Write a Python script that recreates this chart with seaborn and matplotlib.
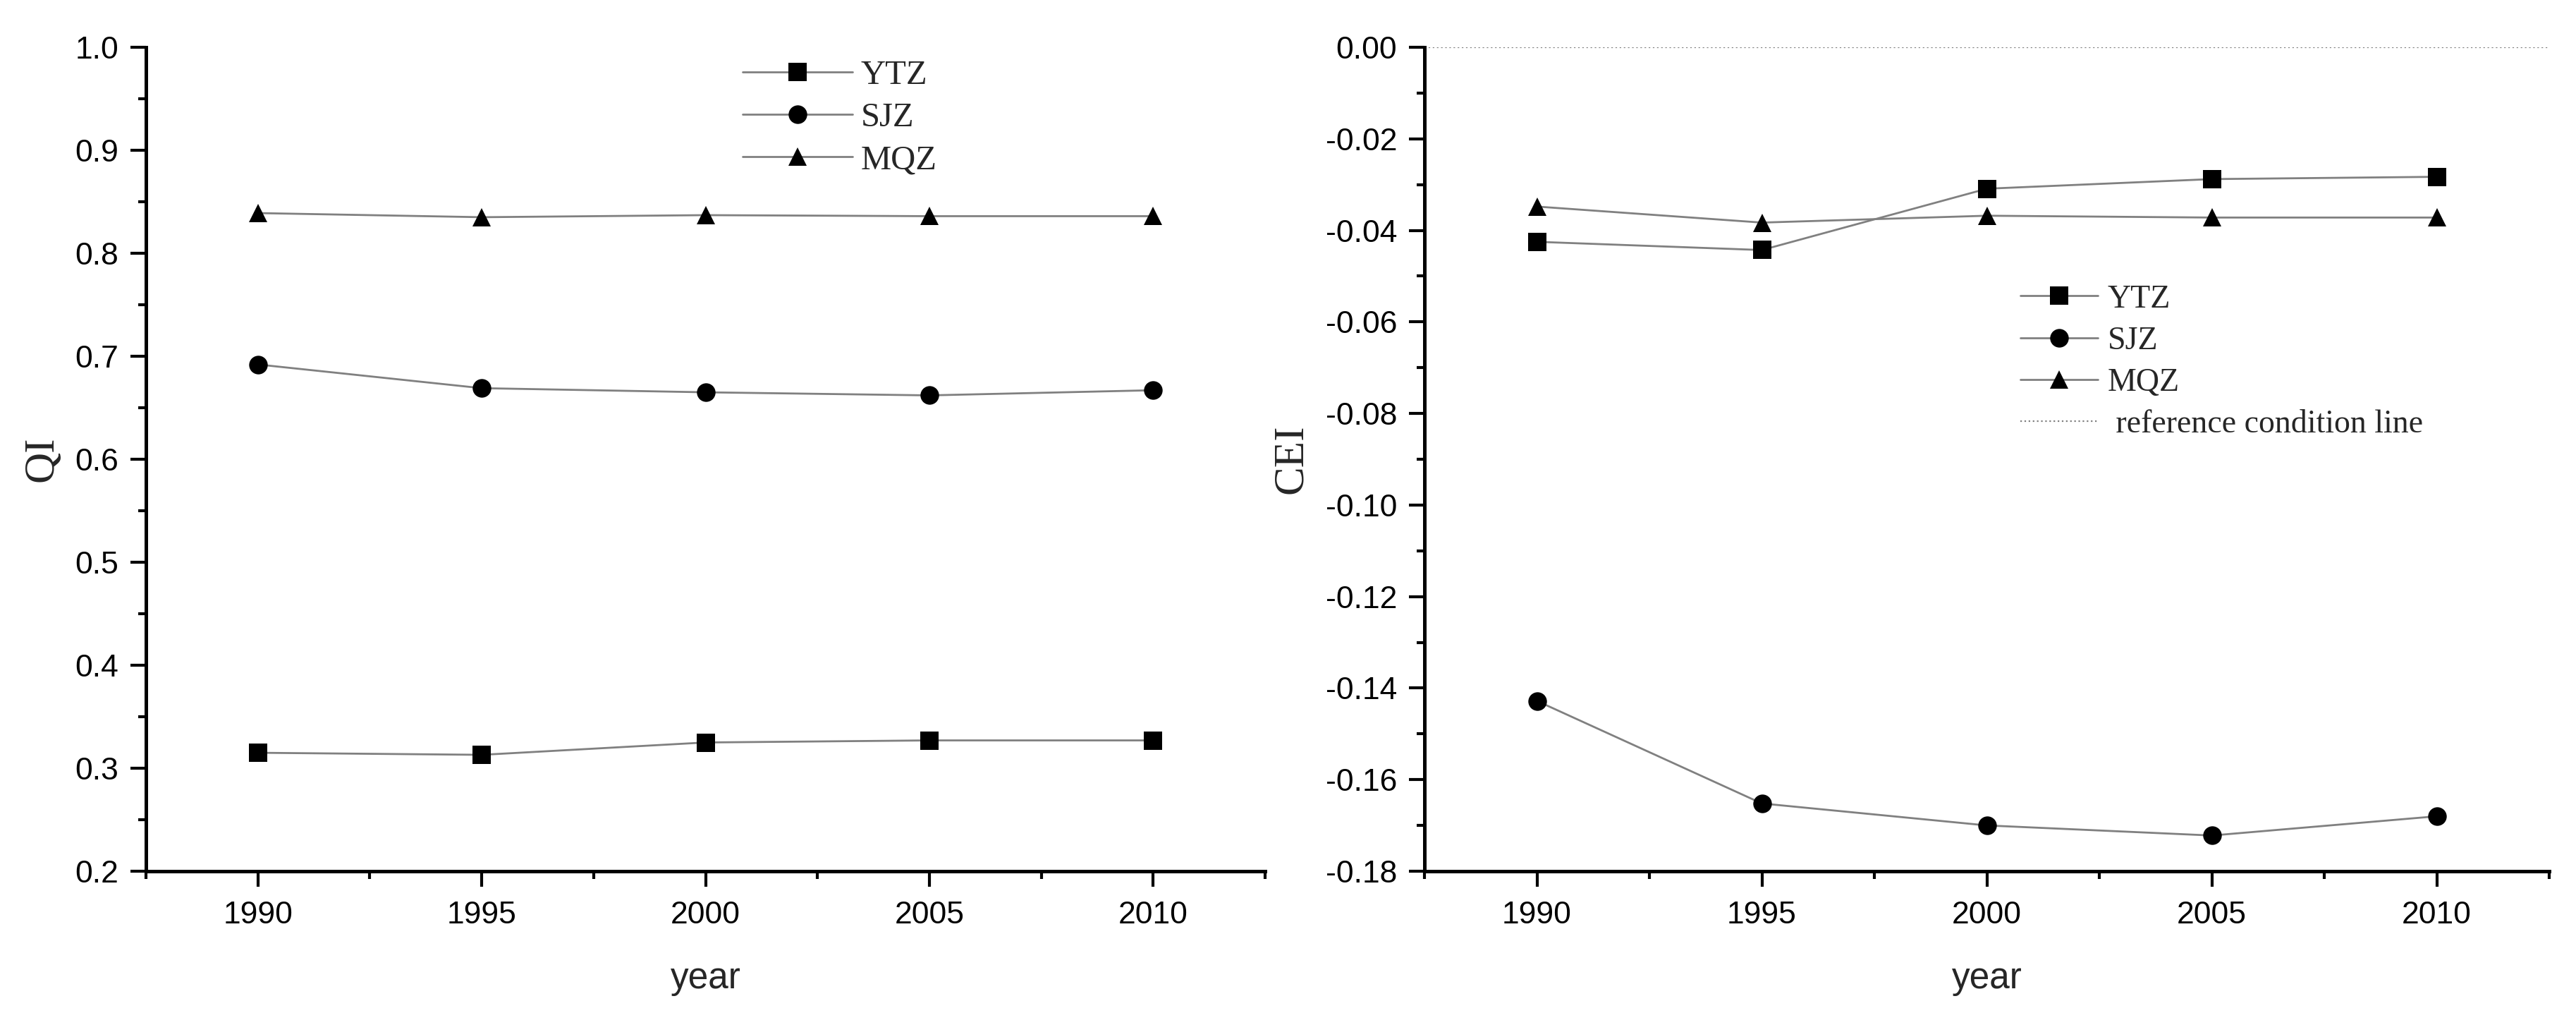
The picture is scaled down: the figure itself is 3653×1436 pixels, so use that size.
import pandas as pd
import matplotlib
matplotlib.use("Agg")
import matplotlib.pyplot as plt
from matplotlib.ticker import MultipleLocator, FormatStrFormatter
import seaborn as sns

# values
years = [1990, 1995, 2000, 2005, 2010]
zones = ["YTZ", "SJZ", "MQZ"]
qi_ytz = [0.315, 0.313, 0.325, 0.327, 0.327]
qi_sjz = [0.692, 0.669, 0.665, 0.662, 0.667]
qi_mqz = [0.839, 0.835, 0.837, 0.836, 0.836]
cei_ytz = [-0.0425, -0.0443, -0.0309, -0.0288, -0.0283]
cei_sjz = [-0.1428, -0.1652, -0.1700, -0.1722, -0.1680]
cei_mqz = [-0.0348, -0.0383, -0.0368, -0.0372, -0.0372]
ref_level = 0.0

marker_map = {"YTZ": "s", "SJZ": "o", "MQZ": "^"}


def long_frame(series):
    rows = []
    for zone, vals in zip(zones, series):
        for yr, v in zip(years, vals):
            rows.append({"year": yr, "zone": zone, "value": v})
    return pd.DataFrame(rows)


qi_df = long_frame([qi_ytz, qi_sjz, qi_mqz])
cei_df = long_frame([cei_ytz, cei_sjz, cei_mqz])

sns.set_style("ticks")
plt.rcParams["font.family"] = ["Liberation Sans", "DejaVu Sans"]
plt.rcParams["axes.unicode_minus"] = False

W, H = 3653, 1436
fig = plt.figure(figsize=(W / 100, H / 100), dpi=100)
ax1 = fig.add_axes([207 / W, 1 - 1235 / H, (1794 - 207) / W, (1235 - 67) / H])
ax2 = fig.add_axes([2020 / W, 1 - 1235 / H, (3615 - 2020) / W, (1235 - 67) / H])

line_kws = dict(
    x="year", y="value", style="zone", style_order=zones, markers=marker_map,
    dashes=False, color="#808080", linewidth=2, markersize=19,
    markerfacecolor="black", markeredgecolor="black", markeredgewidth=0,
    legend=False,
)

sns.lineplot(data=qi_df, ax=ax1, **line_kws)
sns.lineplot(data=cei_df, ax=ax2, **line_kws)

h1 = list(ax1.get_lines())
h2 = list(ax2.get_lines())
ref = ax2.axhline(ref_level, color="#808080", linestyle=":", linewidth=1.6)

for ax in (ax1, ax2):
    sns.despine(ax=ax)
    ax.set_xlim(1987.5, 2012.5)
    ax.xaxis.set_major_locator(MultipleLocator(5))
    ax.xaxis.set_minor_locator(MultipleLocator(2.5))
    for s in ("left", "bottom"):
        ax.spines[s].set_linewidth(3.6)
        ax.spines[s].set_color("black")
    ax.tick_params(which="major", direction="out", length=16, width=3,
                   labelsize=32, pad=12, colors="black")
    ax.tick_params(which="minor", direction="out", length=8, width=3,
                   colors="black")
    ax.tick_params(axis="x", which="major", pad=14)
    ax.set_xlabel("year", fontsize=37, family="Liberation Sans")
    ax.xaxis.set_label_coords(0.5, -0.11)

ax1.set_ylim(0.2, 1.0)
ax1.yaxis.set_major_locator(MultipleLocator(0.1))
ax1.yaxis.set_minor_locator(MultipleLocator(0.05))
ax1.yaxis.set_major_formatter(FormatStrFormatter("%.1f"))
ax1.set_ylabel("QI", fontsize=44, family="Liberation Serif")
ax1.yaxis.set_label_coords(-0.075, 0.5)

ax2.set_ylim(-0.18, 0.0)
ax2.yaxis.set_major_locator(MultipleLocator(0.02))
ax2.yaxis.set_minor_locator(MultipleLocator(0.01))
ax2.yaxis.set_major_formatter(FormatStrFormatter("%.2f"))
ax2.set_ylabel("CEI", fontsize=44, family="Liberation Serif")
ax2.yaxis.set_label_coords(-0.101, 0.5)

leg1 = ax1.legend(h1, zones, loc="upper left",
                  bbox_to_anchor=(1053 / W, 1 - 85 / H), bbox_transform=fig.transFigure,
                  frameon=False, borderaxespad=0, borderpad=0, handlelength=3.2,
                  handletextpad=0.25, labelspacing=0.33,
                  prop={"family": "Liberation Serif", "size": 35})

leg2 = ax2.legend(h2 + [ref], zones + [" reference condition line"], loc="upper left",
                  bbox_to_anchor=(2865 / W, 1 - 403 / H), bbox_transform=fig.transFigure,
                  frameon=False, borderaxespad=0, borderpad=0, handlelength=2.4,
                  handletextpad=0.3, labelspacing=0.365,
                  prop={"family": "Liberation Serif", "size": 33})

fig.savefig("out.png", dpi=100, facecolor="white")
plt.close(fig)
